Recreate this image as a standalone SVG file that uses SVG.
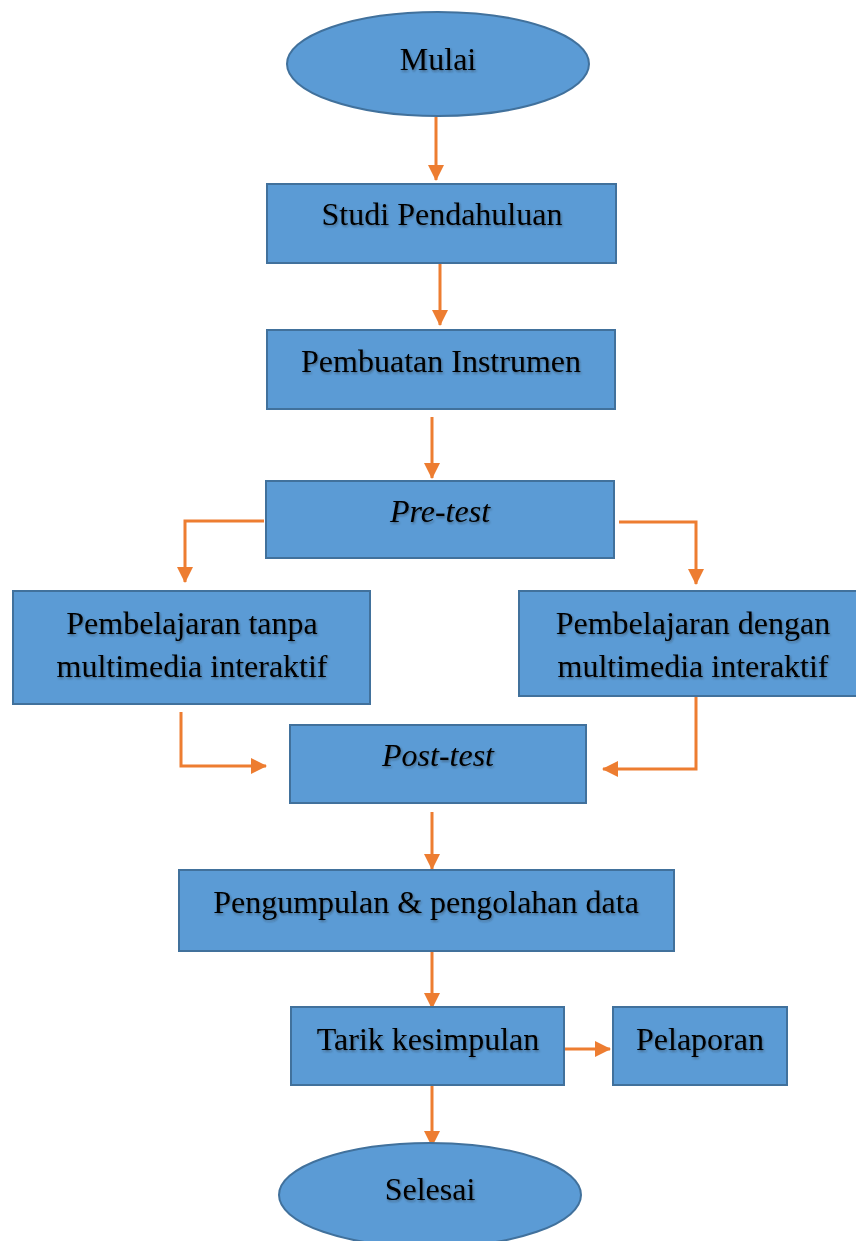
<svg xmlns="http://www.w3.org/2000/svg" width="856" height="1241" viewBox="0 0 856 1241">
<style>
.n{fill:#5B9BD5;stroke:#41719C;stroke-width:2}
.t{font-family:"Liberation Serif","Times New Roman",serif;font-size:32px;fill:#000;text-anchor:middle;filter:url(#sh)}
.i{font-style:italic}
.c{fill:none;stroke:#ED7D31;stroke-width:3;marker-end:url(#ah)}
</style>
<defs>
<marker id="ah" markerUnits="userSpaceOnUse" markerWidth="16" markerHeight="16" viewBox="0 0 16 16" refX="15" refY="8" orient="auto">
<path d="M0,0 L16,8 L0,16 Z" fill="#ED7D31"/>
</marker>
<filter id="sh" x="-10%" y="-20%" width="120%" height="150%">
<feDropShadow dx="1" dy="1.5" stdDeviation="1" flood-color="#222" flood-opacity="0.45"/>
</filter>
</defs>
<rect width="856" height="1241" fill="#fff"/>
<g id="connectors">
<path class="c" d="M436,117 V180"/>
<path class="c" d="M440,263 V325"/>
<path class="c" d="M432,417 V478"/>
<path class="c" d="M264,521 H185 V582"/>
<path class="c" d="M619,522 H696 V584"/>
<path class="c" d="M181,712 V766 H266"/>
<path class="c" d="M696,696 V769 H603"/>
<path class="c" d="M432,812 V869"/>
<path class="c" d="M432,951 V1008"/>
<path class="c" d="M564,1049 H610"/>
<path class="c" d="M432,1085 V1146"/>
</g>
<g id="mulai"><ellipse class="n" cx="438" cy="64" rx="151" ry="52"/><text class="t" x="438" y="70">Mulai</text></g>
<g id="studi"><rect class="n" x="267" y="184" width="349" height="79"/><text class="t" x="442" y="225">Studi Pendahuluan</text></g>
<g id="pembuatan"><rect class="n" x="267" y="330" width="348" height="79"/><text class="t" x="441" y="372">Pembuatan Instrumen</text></g>
<g id="pretest"><rect class="n" x="266" y="481" width="348" height="77"/><text class="t i" x="440" y="522">Pre-test</text></g>
<g id="tanpa"><rect class="n" x="13" y="591" width="357" height="113"/><text class="t" x="192" y="634">Pembelajaran tanpa</text><text class="t" x="192" y="677">multimedia interaktif</text></g>
<g id="dengan"><rect class="n" x="519" y="591" width="340" height="105"/><text class="t" x="693" y="634">Pembelajaran dengan</text><text class="t" x="693" y="677">multimedia interaktif</text></g>
<g id="posttest"><rect class="n" x="290" y="725" width="296" height="78"/><text class="t i" x="438" y="766">Post-test</text></g>
<g id="pengumpulan"><rect class="n" x="179" y="870" width="495" height="81"/><text class="t" x="426" y="913">Pengumpulan &amp; pengolahan data</text></g>
<g id="tarik"><rect class="n" x="291" y="1007" width="273" height="78"/><text class="t" x="428" y="1050">Tarik kesimpulan</text></g>
<g id="pelaporan"><rect class="n" x="613" y="1007" width="174" height="78"/><text class="t" x="700" y="1050">Pelaporan</text></g>
<g id="selesai"><ellipse class="n" cx="430" cy="1195" rx="151" ry="52"/><text class="t" x="430" y="1200">Selesai</text></g>
</svg>
